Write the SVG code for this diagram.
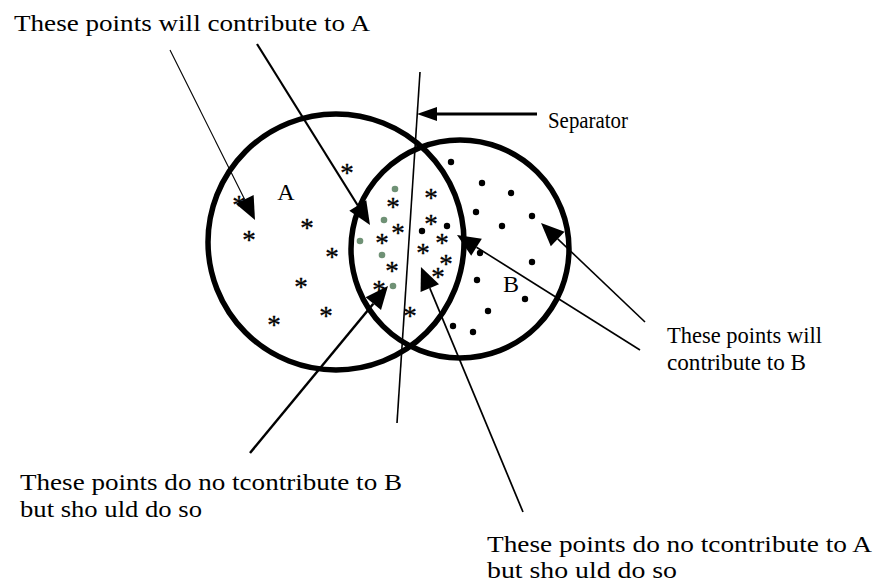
<svg xmlns="http://www.w3.org/2000/svg" width="873" height="582" viewBox="0 0 873 582">
  <style>
    .txt { font-family: "Liberation Serif", "Times New Roman", serif; font-size: 24px; fill: #000; }
    .star { font-family: "Liberation Serif", "Times New Roman", serif; font-size: 27px; fill: #000; stroke: #000; stroke-width: 0.35; text-anchor: middle; }
    .set { fill: none; stroke: #000; stroke-width: 5.5; }
    .dot { fill: #000; }
    .gdot { fill: #6f9175; }
    .conn { fill: none; stroke: #000; }
  </style>
  <defs>
    <marker id="bigHead" markerUnits="userSpaceOnUse" markerWidth="26" markerHeight="24" refX="0" refY="10" orient="auto" overflow="visible">
      <path d="M0,0 L23,10 L0,20 Z" fill="#000"/>
    </marker>
    <marker id="smallHead" markerUnits="userSpaceOnUse" markerWidth="22" markerHeight="16" refX="0" refY="7" orient="auto" overflow="visible">
      <path d="M0,0 L20,7 L0,14 Z" fill="#000"/>
    </marker>
  </defs>
  <rect width="873" height="582" fill="#fff"/>

  <g id="setA">
    <circle class="set" cx="336" cy="242" r="128"/>
    <text class="txt" x="286" y="200" text-anchor="middle">A</text>
  </g>
  <g id="setB">
    <circle class="set" cx="460" cy="249" r="109"/>
    <text class="txt" x="511" y="292" text-anchor="middle">B</text>
  </g>

  <g id="points">
    <g id="starsA">
      <text class="star" x="239" y="214">*</text>
      <text class="star" x="307" y="237">*</text>
      <text class="star" x="249" y="249">*</text>
      <text class="star" x="332" y="266">*</text>
      <text class="star" x="301" y="296">*</text>
      <text class="star" x="326" y="325">*</text>
      <text class="star" x="274" y="334">*</text>
      <text class="star" x="347" y="182">*</text>
      <text class="star" x="393" y="216">*</text>
      <text class="star" x="398" y="242">*</text>
      <text class="star" x="382" y="252">*</text>
      <text class="star" x="392" y="280">*</text>
      <text class="star" x="379" y="299">*</text>
      <text class="star" x="431" y="207">*</text>
      <text class="star" x="431" y="233">*</text>
      <text class="star" x="442" y="252">*</text>
      <text class="star" x="423" y="262">*</text>
      <text class="star" x="446" y="273">*</text>
      <text class="star" x="438" y="286">*</text>
      <text class="star" x="410" y="325">*</text>
    </g>
    <g id="greenDots">
      <circle class="gdot" cx="395" cy="189" r="3.3"/>
      <circle class="gdot" cx="384" cy="220" r="3.3"/>
      <circle class="gdot" cx="360" cy="241" r="3.3"/>
      <circle class="gdot" cx="382" cy="255" r="3.3"/>
      <circle class="gdot" cx="393" cy="286" r="3.3"/>
    </g>
    <g id="dotsB">
      <circle class="dot" cx="451" cy="162" r="3.2"/>
      <circle class="dot" cx="482" cy="183" r="3.2"/>
      <circle class="dot" cx="511" cy="193" r="3.2"/>
      <circle class="dot" cx="476" cy="212" r="3.2"/>
      <circle class="dot" cx="532" cy="216" r="3.2"/>
      <circle class="dot" cx="502" cy="226" r="3.2"/>
      <circle class="dot" cx="422" cy="231" r="3.2"/>
      <circle class="dot" cx="447" cy="226" r="3.2"/>
      <circle class="dot" cx="480" cy="253" r="3.2"/>
      <circle class="dot" cx="532" cy="262" r="3.2"/>
      <circle class="dot" cx="477" cy="280" r="3.2"/>
      <circle class="dot" cx="525" cy="299" r="3.2"/>
      <circle class="dot" cx="488" cy="311" r="3.2"/>
      <circle class="dot" cx="453" cy="326" r="3.2"/>
      <circle class="dot" cx="473" cy="332" r="3.2"/>
    </g>
  </g>

  <g id="separator">
    <line x1="420" y1="72" x2="397" y2="423" stroke="#000" stroke-width="1.6"/>
  </g>

  <g id="connectors">
    <line class="conn" x1="537" y1="114" x2="437" y2="114" stroke-width="3" marker-end="url(#smallHead)"/>
    <line class="conn" x1="170" y1="50" x2="244.7" y2="199.4" stroke-width="1.1" marker-end="url(#bigHead)"/>
    <line class="conn" x1="257" y1="44" x2="357.8" y2="205.5" stroke-width="2.2" marker-end="url(#bigHead)"/>
    <line class="conn" x1="250" y1="453" x2="373.3" y2="303.7" stroke-width="2.5" marker-end="url(#bigHead)"/>
    <line class="conn" x1="523" y1="512" x2="429.8" y2="288.2" stroke-width="1.7" marker-end="url(#bigHead)"/>
    <line class="conn" x1="645" y1="322" x2="557.7" y2="238.9" stroke-width="1.6" marker-end="url(#bigHead)"/>
    <line class="conn" x1="640" y1="350" x2="476.5" y2="247.2" stroke-width="1.6" marker-end="url(#bigHead)"/>
  </g>

  <g id="labels">
    <text id="lblTopA" class="txt" x="14" y="31" textLength="356" lengthAdjust="spacingAndGlyphs">These points will contribute to A</text>
    <text id="lblSeparator" class="txt" x="548" y="128" style="font-size:23px" textLength="80" lengthAdjust="spacingAndGlyphs">Separator</text>
    <g id="lblContribB">
      <text class="txt" x="667" y="343" textLength="155" lengthAdjust="spacingAndGlyphs">These points will</text>
      <text class="txt" x="667" y="370" textLength="139" lengthAdjust="spacingAndGlyphs">contribute to B</text>
    </g>
    <g id="lblNotB">
      <text class="txt" x="20" y="490" textLength="382" lengthAdjust="spacingAndGlyphs">These points do no tcontribute to B</text>
      <text class="txt" x="20" y="517" textLength="182" lengthAdjust="spacingAndGlyphs">but sho uld do so</text>
    </g>
    <g id="lblNotA">
      <text class="txt" x="487" y="552" textLength="385" lengthAdjust="spacingAndGlyphs">These points do no tcontribute to A</text>
      <text class="txt" x="487" y="578" textLength="190" lengthAdjust="spacingAndGlyphs">but sho uld do so</text>
    </g>
  </g>
</svg>
